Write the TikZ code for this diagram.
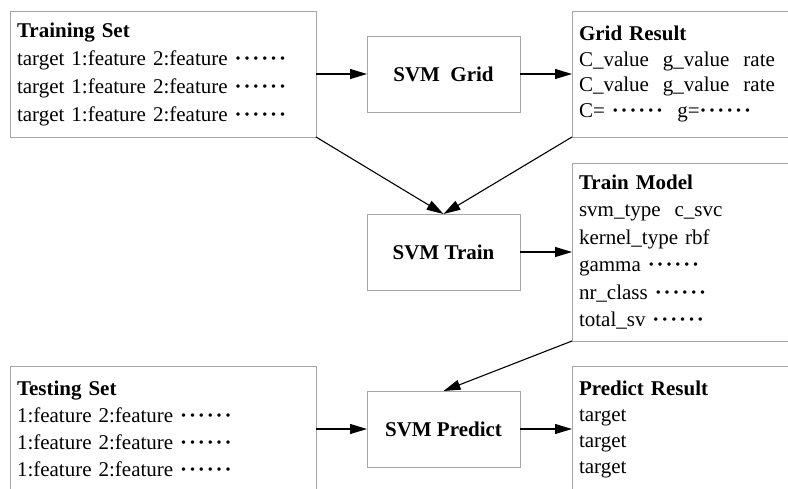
\documentclass[tikz,border=0pt]{standalone}
\usepackage{fontspec}
\setmainfont{Liberation Serif}
\usetikzlibrary{arrows.meta,positioning}
\newcommand{\onedot}{\textbf{\textperiodcentered}}
\newcommand{\mydots}{\onedot\kern.09em\onedot\kern.09em\onedot\kern.09em\onedot\kern.09em\onedot\kern.09em\onedot}

\begin{document}
\begin{tikzpicture}[x=1pt,y=-1pt,outer sep=0pt,
    datbox/.style={rectangle,draw=gray!70,line width=1pt,align=left,
      inner xsep=7pt,inner ysep=0pt,font=\fontsize{21}{#1}\selectfont},
    datbox/.default=27pt,
    svmbox/.style={rectangle,draw=gray!70,line width=1pt,minimum width=153pt,
      minimum height=76pt,font=\fontsize{21}{25}\selectfont\bfseries},
    flow/.style={-{Triangle[length=17pt,width=10pt]},line width=1.1pt}]
    \useasboundingbox (0,0) rectangle (788,488);
    \node[datbox=28pt,text width=292pt,minimum height=126pt,anchor=north west] (trainset) at (10,11)
      {\textbf{Training Set}\\
       target 1:feature 2:feature \mydots\\
       target 1:feature 2:feature \mydots\\
       target 1:feature 2:feature \mydots};
    \node[svmbox] (grid) [right=51pt of trainset] {SVM\ \ Grid};
    \node[datbox=25.5pt,text width=214pt,minimum height=126pt] (gridres) [right=52pt of grid]
      {\textbf{Grid Result}\\
       C\_value\ \ g\_value\ \ rate\\
       C\_value\ \ g\_value\ \ rate\\
       C= \mydots\ \ g=\mydots};
    \node[svmbox] (svmtrain) [below=102pt of grid] {SVM Train};
    \node[datbox=27.4pt,text width=214pt,minimum height=178pt] (model) [right=52pt of svmtrain]
      {\textbf{Train Model}\\
       svm\_type\ \ c\_svc\\
       kernel\_type rbf\\
       gamma \mydots\\
       nr\_class \mydots\\
       total\_sv \mydots};
    \node[svmbox] (predict) [below=101pt of svmtrain] {SVM Predict};
    \node[datbox,text width=292pt,minimum height=126pt] (testset) [left=51pt of predict]
      {\textbf{Testing Set}\\
       1:feature 2:feature \mydots\\
       1:feature 2:feature \mydots\\
       1:feature 2:feature \mydots};
    \node[datbox=26pt,text width=214pt,minimum height=126pt] (predres) [right=52pt of predict]
      {\textbf{Predict Result}\\
       target\\
       target\\
       target};
    \draw[flow] (trainset) -- (grid);
    \draw[flow] (grid) -- (gridres);
    \draw[flow] (trainset.south east) -- (svmtrain.north);
    \draw[flow] (gridres.south west) -- (svmtrain.north);
    \draw[flow] (svmtrain) -- (model);
    \draw[flow] (model.south west) -- (predict.north);
    \draw[flow] (testset) -- (predict);
    \draw[flow] (predict) -- (predres);
\end{tikzpicture}
\end{document}
